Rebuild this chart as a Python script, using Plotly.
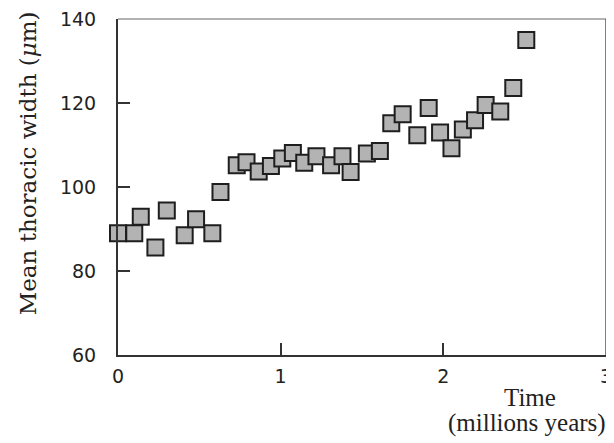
import plotly.graph_objects as go

times = [0.0, 0.10, 0.14, 0.23, 0.30, 0.41, 0.48, 0.58, 0.63, 0.73, 0.79, 0.865,
         0.94, 1.01, 1.075, 1.145, 1.22, 1.31, 1.38, 1.43, 1.53, 1.61, 1.68, 1.75,
         1.84, 1.91, 1.98, 2.05, 2.12, 2.195, 2.26, 2.35, 2.43, 2.51]
widths = [89.0, 89.0, 92.9, 85.6, 94.4, 88.5, 92.3, 89.0, 98.8, 105.2, 105.9, 103.7,
          105.0, 106.8, 108.1, 105.8, 107.3, 105.2, 107.3, 103.6, 108.0, 108.6, 115.2, 117.3,
          112.3, 118.8, 113.0, 109.2, 113.7, 115.9, 119.5, 118.0, 123.6, 135.0]

x_ticks = [0, 1, 2, 3]
y_ticks = [60, 80, 100, 120, 140]

fig = go.Figure()
fig.add_trace(go.Scatter(
    x=times, y=widths, mode="markers", cliponaxis=False,
    marker=dict(symbol="square", size=16, color="#b3b3b3",
                line=dict(color="#1e1e1e", width=2)),
    showlegend=False,
))

tickfont = dict(family="DejaVu Sans", size=19, color="#222")
fig.update_xaxes(range=[0, 3], tickvals=x_ticks, ticktext=[str(v) for v in x_ticks],
                 ticks="inside", ticklen=12, tickwidth=2, tickcolor="#333",
                 showline=True, linecolor="#333", linewidth=2, showgrid=False,
                 zeroline=False, tickfont=tickfont, ticklabelstandoff=3, automargin=False,
                 ticklabeloverflow="allow")
fig.update_yaxes(range=[60, 140], tickvals=y_ticks, ticktext=[str(v) for v in y_ticks],
                 ticks="inside", ticklen=12, tickwidth=2, tickcolor="#333",
                 showline=True, linecolor="#333", linewidth=2, showgrid=False,
                 zeroline=False, tickfont=tickfont, ticklabelstandoff=16, automargin=False,
                 ticklabeloverflow="allow")

fig.add_shape(type="line", xref="paper", yref="paper", x0=0, x1=1, y0=1, y1=1,
              line=dict(color="#999", width=1.5))
fig.add_shape(type="line", xref="paper", yref="paper", x0=1, x1=1, y0=0, y1=1,
              line=dict(color="#555", width=1.5))

fig.add_annotation(text="Mean thoracic width (<i>μ</i>m)", xref="paper", yref="paper",
                   x=-0.184, y=0.571, textangle=-90, showarrow=False,
                   font=dict(family="DejaVu Serif", size=23, color="#222"),
                   xanchor="center", yanchor="middle")
serif = dict(family="Liberation Serif", size=25, color="#222")
fig.add_annotation(text="Time", xref="paper", yref="paper", x=0.844, y=-0.125,
                   showarrow=False, font=serif, xanchor="center", yanchor="middle")
fig.add_annotation(text="(millions years)", xref="paper", yref="paper", x=0.838, y=-0.202,
                   showarrow=False, font=serif, xanchor="center", yanchor="middle")

# page body has an 8px default margin, so the figure is sized to fit inside 614x443
fig.update_layout(width=606, height=435, margin=dict(l=110, r=8, t=11, b=88),
                  paper_bgcolor="white", plot_bgcolor="white")
fig.write_html("out.html")
